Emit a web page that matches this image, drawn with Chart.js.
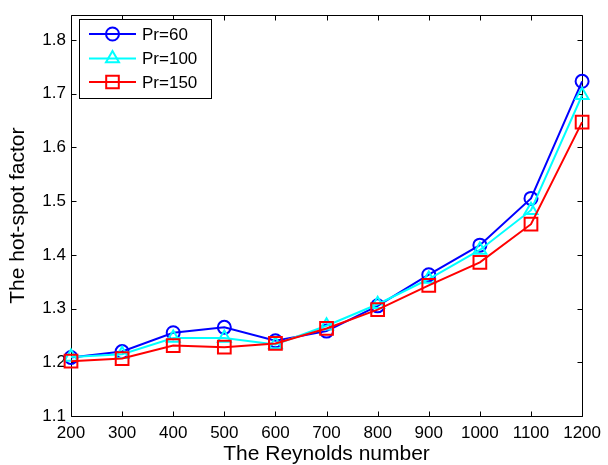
<!DOCTYPE html>
<html>
<head>
<meta charset="utf-8">
<script src="https://cdn.jsdelivr.net/npm/chart.js@4/dist/chart.umd.min.js"></script>
<style>
html,body{margin:0;padding:0;background:#fff;}
#wrap{width:608px;height:465px;}
</style>
</head>
<body>
<div id="wrap"><canvas id="c" width="608" height="465"></canvas></div>
<script>
const reynolds = [200, 300, 400, 500, 600, 700, 800, 900, 1000, 1100, 1200];
const pr60  = [1.209, 1.220, 1.255, 1.265, 1.240, 1.258, 1.305, 1.363, 1.418, 1.505, 1.723];
const pr100 = [1.210, 1.215, 1.245, 1.245, 1.233, 1.268, 1.308, 1.355, 1.409, 1.483, 1.697];
const pr150 = [1.202, 1.207, 1.231, 1.228, 1.235, 1.263, 1.298, 1.343, 1.386, 1.457, 1.647];
const seriesLabels = ['Pr=60', 'Pr=100', 'Pr=150'];
const xTitle = 'The Reynolds number';
const yTitle = 'The hot-spot factor';

const FONT = 'Arial, "Liberation Sans", sans-serif';
const pts = arr => reynolds.map((x, i) => ({x: x, y: arr[i]}));

function mk(label, data, color, style, r, order) {
  return {
    label: label, data: pts(data), borderColor: color, backgroundColor: 'rgba(0,0,0,0)',
    borderWidth: 2, pointStyle: style, pointRadius: r, pointHoverRadius: r,
    pointBorderColor: color, pointBackgroundColor: 'rgba(0,0,0,0)', pointBorderWidth: 2,
    tension: 0, order: order, clip: false
  };
}

function drawMarker(ctx, style, x, y, color) {
  ctx.save();
  ctx.strokeStyle = color; ctx.lineWidth = 2;
  ctx.beginPath();
  if (style === 'circle') {
    ctx.arc(x, y, 6.5, 0, Math.PI * 2);
  } else if (style === 'triangle') {
    const r = 7.5;
    ctx.moveTo(x, y - r);
    ctx.lineTo(x + r * Math.sin(Math.PI * 2 / 3), y - r * Math.cos(Math.PI * 2 / 3));
    ctx.lineTo(x - r * Math.sin(Math.PI * 2 / 3), y - r * Math.cos(Math.PI * 2 / 3));
    ctx.closePath();
  } else {
    ctx.rect(x - 6.3, y - 6.3, 12.6, 12.6);
  }
  ctx.stroke();
  ctx.restore();
}

const framePlugin = {
  id: 'frame',
  beforeDatasetsDraw(chart) {
    const {ctx, chartArea: a, scales} = chart;
    ctx.save();
    ctx.strokeStyle = '#000'; ctx.lineWidth = 1;
    const L = Math.round(a.left) + 0.5, R = Math.round(a.right) + 0.5;
    const T = Math.round(a.top) + 0.5, B = Math.round(a.bottom) + 0.5;
    ctx.beginPath();
    ctx.rect(L, T, R - L, B - T);
    ctx.stroke();
    ctx.beginPath();
    scales.x.ticks.forEach(t => {
      const px = Math.round(scales.x.getPixelForValue(t.value)) + 0.5;
      ctx.moveTo(px, B); ctx.lineTo(px, B - 5);
      ctx.moveTo(px, T); ctx.lineTo(px, T + 5);
    });
    scales.y.ticks.forEach(t => {
      const py = Math.round(scales.y.getPixelForValue(t.value)) + 0.5;
      ctx.moveTo(L, py); ctx.lineTo(L + 5, py);
      ctx.moveTo(R, py); ctx.lineTo(R - 5, py);
    });
    ctx.stroke();
    ctx.restore();
  },
  afterDraw(chart) {
    const ctx = chart.ctx;
    const bx = 79.5, by = 19.5, bw = 132, bh = 79;
    ctx.save();
    ctx.fillStyle = '#fff';
    ctx.fillRect(bx, by, bw, bh);
    ctx.strokeStyle = '#000'; ctx.lineWidth = 1;
    ctx.strokeRect(bx, by, bw, bh);
    const rows = [34, 58.5, 82];
    [0, 1, 2].forEach((di, k) => {
      const ds = chart.data.datasets[di];
      const y = rows[k];
      ctx.strokeStyle = ds.borderColor; ctx.lineWidth = 2;
      ctx.beginPath(); ctx.moveTo(89, y); ctx.lineTo(136, y); ctx.stroke();
      drawMarker(ctx, ds.pointStyle, 112.5, y, ds.borderColor);
      ctx.fillStyle = '#000';
      ctx.font = '17px ' + FONT;
      ctx.textBaseline = 'middle';
      ctx.textAlign = 'left';
      ctx.fillText(ds.label, 142, y + 1);
    });
    ctx.restore();
  }
};

new Chart(document.getElementById('c'), {
  type: 'line',
  data: {
    datasets: [
      mk(seriesLabels[0], pr60, '#0000ff', 'circle', 6.5, 3),
      mk(seriesLabels[1], pr100, '#00ffff', 'triangle', 7.5, 2),
      mk(seriesLabels[2], pr150, '#ff0000', 'rect', 9, 1)
    ]
  },
  options: {
    responsive: false, animation: false, devicePixelRatio: 1,
    layout: {padding: {top: 11, right: 24, left: 0, bottom: 0}},
    plugins: {legend: {display: false}, tooltip: {enabled: false}},
    scales: {
      x: {
        type: 'linear', min: 200, max: 1200,
        afterFit(s) { s.height = 49; },
        ticks: {stepSize: 100, color: '#000', font: {family: FONT, size: 17}, padding: 7, maxRotation: 0, autoSkip: false,
          callback: v => String(v)},
        grid: {drawOnChartArea: false, drawTicks: false},
        border: {display: false},
        title: {display: true, text: xTitle, color: '#000', font: {family: FONT, size: 21, lineHeight: 1}, padding: {top: 0, bottom: 0}}
      },
      y: {
        type: 'linear', min: 1.1, max: 1.846,
        afterFit(s) { s.width = 71; },
        ticks: {stepSize: 0.1, includeBounds: false, color: '#000', font: {family: FONT, size: 17}, padding: 5,
          callback: v => (Math.round(v * 10) / 10).toFixed(1)},
        grid: {drawOnChartArea: false, drawTicks: false},
        border: {display: false},
        title: {display: true, text: yTitle, color: '#000', font: {family: FONT, size: 21, lineHeight: 1}, padding: {top: 8, bottom: 0}}
      }
    }
  },
  plugins: [framePlugin]
});
</script>
</body>
</html>
